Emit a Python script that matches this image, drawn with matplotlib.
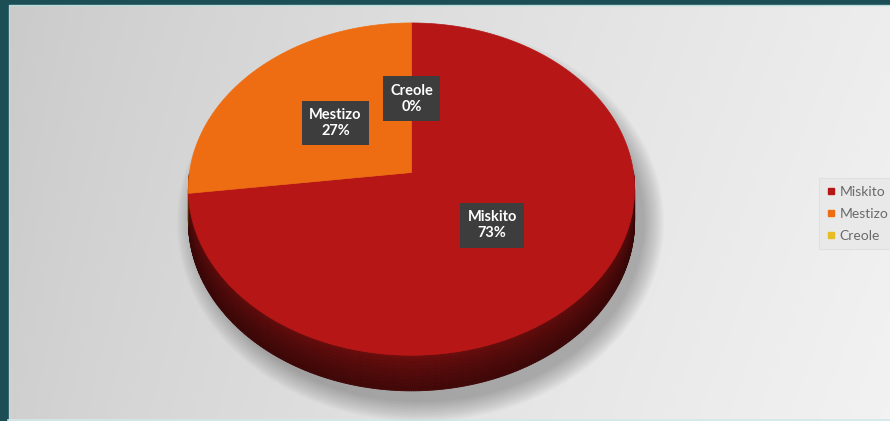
import numpy as np
import matplotlib.pyplot as plt
import matplotlib.colors as mcolors
from matplotlib.patches import Polygon, Rectangle, Ellipse
from matplotlib.collections import PolyCollection
from matplotlib.lines import Line2D

# data
categories = ['Miskito', 'Mestizo', 'Creole']
values = [73, 27, 0]
colors = ['#b71616', '#ee6d12', '#e6bd22']

# layout (pixels)
W, H = 890, 421
CX, CY, RX, RY = 411.5, 172.5, 222.0, 164.5
PERSP = 0.1
DEPTH = 32
LABEL_R = 0.47


def project(t, r=1.0, drop=0.0):
    """Point on the tilted pie disc (angle t, radius fraction r) in pixel coords."""
    s = 1.0 / (1.0 + PERSP * r * np.sin(t))
    x = CX + RX * r * np.cos(t) * s
    y = CY - RY * r * np.sin(t) * s + drop * s
    return x, y


fig = plt.figure(figsize=(W / 100, H / 100), dpi=100)
ax = fig.add_axes([0, 0, 1, 1])
ax.set_xlim(0, W)
ax.set_ylim(H, 0)
ax.axis('off')

# background gradient
grad = np.linspace(0, 1, 256)
gx, gy = np.meshgrid(grad, np.linspace(0, 1, 64))
bg = 0.79 + 0.14 * gx ** 0.8 + 0.02 * gy
ax.imshow(np.dstack([bg, bg, bg]), extent=(0, W, H, 0), aspect='auto', zorder=0)

# teal frame
ax.add_patch(Rectangle((0, 0), 8, H, color='#1b4e55', zorder=1))
ax.add_patch(Rectangle((0, 0), W, 4, color='#1b4e55', zorder=1))
ax.plot([8.5, 8.5, W], [H, 4.5, 4.5], color='#b9dcdc', lw=1, zorder=1)
ax.plot([8, W], [419.5, 419.5], color='#d2e8ea', lw=1.2, zorder=1)

# soft shadow
for k in range(14):
    ax.add_patch(Ellipse((CX + 9, CY + 50), 2 * RX + 4 + 3 * k, 2 * RY + 30 + 3 * k,
                         color='black', alpha=0.02, lw=0, zorder=2))

total = sum(values)
start = 90.0
ranges = []
for v in values:
    sweep = v / total * 360.0
    ranges.append((np.radians(start - sweep), np.radians(start)))
    start -= sweep

# side walls (front half only)
side_polys, side_cols = [], []
nb = 10
for (t0, t1), c in zip(ranges, colors):
    if t1 - t0 <= 0:
        continue
    ts = np.linspace(t0, t1, max(2, int(np.degrees(t1 - t0) * 2)))
    base = np.array(mcolors.to_rgb(c))
    for a, b in zip(ts[:-1], ts[1:]):
        if np.sin((a + b) / 2) >= 0:
            continue
        shade = 1.0 - 0.18 * abs(np.cos((a + b) / 2))
        for j in range(nb):
            d0, d1 = j / nb, (j + 1) / nb
            f = 0.62 - 0.26 * ((d0 + d1) / 2) ** 0.7
            p = [project(a, drop=DEPTH * d0), project(b, drop=DEPTH * d0),
                 project(b, drop=DEPTH * d1), project(a, drop=DEPTH * d1)]
            side_polys.append(p)
            side_cols.append(np.clip(base * f * shade, 0, 1))
ax.add_collection(PolyCollection(side_polys, facecolors=side_cols,
                                 edgecolors=side_cols, linewidths=0.6, zorder=3))

# top faces
for (t0, t1), c in zip(ranges, colors):
    if t1 - t0 <= 0:
        continue
    ts = np.linspace(t0, t1, 200)
    xs, ys = project(ts)
    pts = [(CX, CY)] + list(zip(xs, ys))
    ax.add_patch(Polygon(pts, closed=True, facecolor=c, edgecolor=c, lw=0.5, zorder=4))

# data labels
for (t0, t1), cat, v in zip(ranges, categories, values):
    tm = (t0 + t1) / 2
    x, y = project(tm, r=LABEL_R)
    ax.text(x, y, f'{cat}\n{round(v / total * 100)}%', ha='center', va='center',
            color='white', fontsize=10.5, fontweight='bold', family='Lato',
            linespacing=1.2, zorder=6,
            bbox=dict(boxstyle='square,pad=0.5', fc='#3d3d3d', ec='none'))

# legend
handles = [Line2D([0], [0], marker='s', ls='none', color=c, markersize=5) for c in colors]
leg = ax.legend(handles, categories, loc='upper left',
                bbox_to_anchor=(812 / W, 1 - 171 / H), frameon=True,
                prop={'family': 'Lato', 'size': 10}, labelcolor='#6a6a6a',
                handlelength=0.6, handletextpad=0.35, labelspacing=0.72,
                borderpad=0.55, fancybox=False)
leg.get_frame().set_edgecolor('#dedede')
leg.get_frame().set_facecolor('#e8e8e8')
leg.get_frame().set_linewidth(0.8)

fig.savefig('out.png', dpi=100)
